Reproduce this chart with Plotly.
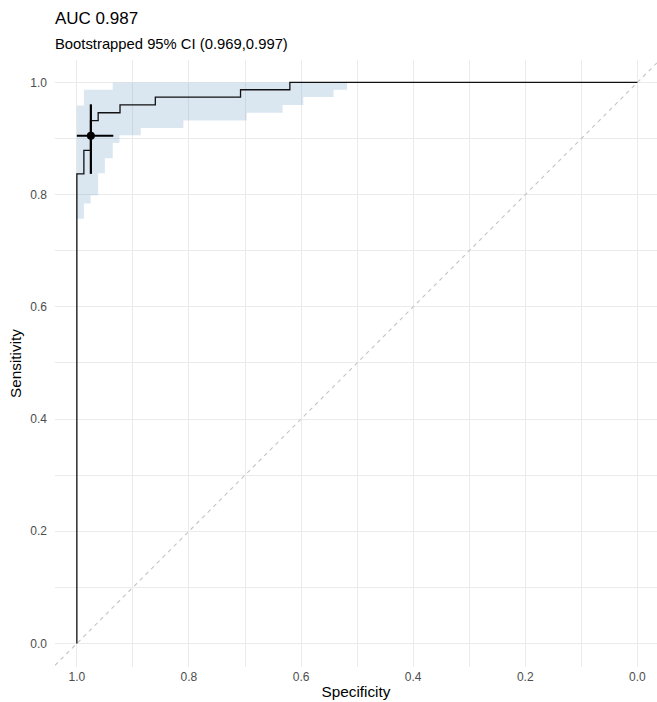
import plotly.graph_objects as go

# ---- data ----
# ROC curve as step points (specificity, sensitivity)
roc_spec = [1.0, 1.0, 0.9875, 0.9756, 0.962, 0.923, 0.860, 0.708, 0.620, 0.0]
roc_sens = [0.0, 0.837, 0.879, 0.932, 0.946, 0.960, 0.974, 0.987, 1.0, 1.0]

# bootstrapped CI band of sensitivity at each specificity
ci_spec = [1.0, 0.9875, 0.9756, 0.962, 0.950, 0.936, 0.924, 0.886, 0.810, 0.697, 0.633, 0.596, 0.542, 0.518]
ci_lower = [0.757, 0.784, 0.799, 0.838, 0.865, 0.892, 0.906, 0.919, 0.932, 0.946, 0.960, 0.974, 0.987, 0.987]
ci_upper = [0.959, 0.987, 0.987, 0.987, 0.987, 1.0, 1.0, 1.0, 1.0, 1.0, 1.0, 1.0, 1.0, 1.0]

# best threshold point with its CIs
best_spec = [0.975]
best_sens = [0.905]
best_spec_lo = [0.935]
best_spec_hi = [1.0]
best_sens_lo = [0.837]
best_sens_hi = [0.961]

auc_text = "AUC 0.987"
ci_text = "Bootstrapped 95% CI (0.969,0.997)"

x_range = [1.039, -0.035]
y_range = [-0.042, 1.040]

FONT = "Liberation Sans, Arial, Helvetica, sans-serif"
GRID = "#ebebeb"

fig = go.Figure()

# chance diagonal across the whole panel
fig.add_trace(go.Scatter(
    x=x_range, y=[1 - v for v in x_range], mode="lines",
    line=dict(color="#c4c4c4", width=1.1, dash="4px,4px"),
    hoverinfo="skip", showlegend=False, cliponaxis=True))

# CI band
fig.add_trace(go.Scatter(
    x=ci_spec, y=ci_lower, mode="lines", line=dict(width=0, shape="hv"),
    hoverinfo="skip", showlegend=False))
fig.add_trace(go.Scatter(
    x=ci_spec, y=ci_upper, mode="lines", line=dict(width=0, shape="hv"),
    fill="tonexty", fillcolor="rgba(70,130,180,0.2)",
    hoverinfo="skip", showlegend=False))

# ROC curve
fig.add_trace(go.Scatter(
    x=roc_spec, y=roc_sens, mode="lines",
    line=dict(color="#111111", width=1.3, shape="hv"),
    showlegend=False))

# best point with error bars
fig.add_trace(go.Scatter(
    x=best_spec, y=best_sens, mode="markers",
    marker=dict(color="black", size=8),
    error_x=dict(type="data", symmetric=False,
                 array=[h - v for h, v in zip(best_spec_hi, best_spec)],
                 arrayminus=[v - l for v, l in zip(best_spec, best_spec_lo)],
                 color="black", thickness=2.2, width=0),
    error_y=dict(type="data", symmetric=False,
                 array=[h - v for h, v in zip(best_sens_hi, best_sens)],
                 arrayminus=[v - l for v, l in zip(best_sens, best_sens_lo)],
                 color="black", thickness=2.2, width=0),
    showlegend=False))

axis_common = dict(
    tickmode="linear", tick0=0, dtick=0.2, tickformat=".1f",
    showgrid=True, gridcolor=GRID, gridwidth=1.1,
    minor=dict(dtick=0.1, tick0=0, showgrid=True, gridcolor=GRID, gridwidth=0.55),
    zeroline=False, showline=False, ticks="",
    tickfont=dict(family=FONT, size=12, color="#4d4d4d"),
)

fig.update_layout(
    width=657, height=702,
    margin=dict(l=55, r=0, t=60, b=35),
    paper_bgcolor="white", plot_bgcolor="white",
    font=dict(family=FONT, color="black"),
    title=dict(text=auc_text, x=0, xref="paper", xanchor="left",
               y=1 - 18 / 702, yref="container", yanchor="middle",
               font=dict(family=FONT, size=17, color="black")),
    xaxis=dict(range=x_range, ticklabelstandoff=1,
               title=dict(text="Specificity", standoff=3,
                          font=dict(family=FONT, size=15.3, color="black")),
               **axis_common),
    yaxis=dict(range=y_range, ticklabelstandoff=7,
               title=dict(text="Sensitivity", standoff=4,
                          font=dict(family=FONT, size=15.3, color="black")),
               **axis_common),
    annotations=[dict(text=ci_text, xref="paper", yref="paper", x=0, y=(667 - 44) / 607,
                      xanchor="left", yanchor="middle", showarrow=False, xshift=-2,
                      font=dict(family=FONT, size=14.8, color="black"))],
)

fig.write_html("out.html")
